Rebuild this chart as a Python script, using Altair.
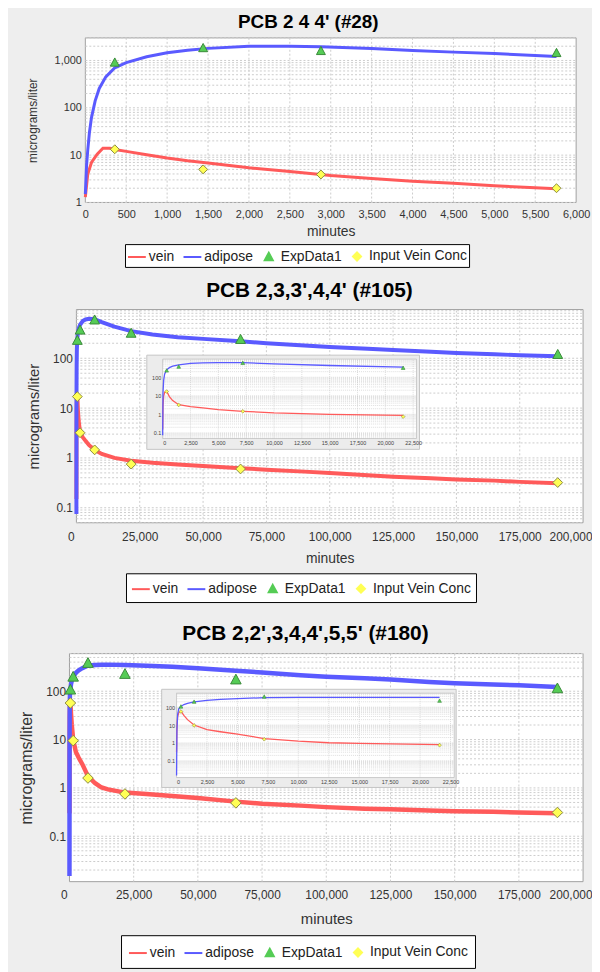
import altair as alt
import pandas as pd

FONT = "Liberation Sans"
SERIES = ["vein", "adipose", "ExpData1", "Input Vein Conc"]
SERIES_COLORS = ["#ff5a5a", "#5a5aff", "#55cc55", "#ffff55"]
SERIES_SHAPES = ["M-1,0H1", "M-1,0H1",
                 "M0,-0.45L0.45,0.38L-0.45,0.38Z",
                 "M0,-0.45L0.45,0L0,0.45L-0.45,0Z"]
X_TITLE = "minutes"
Y_TITLE = "micrograms/liter"
DECADE_STEPS = [1, 2, 3, 4, 5, 6, 7, 8, 9]

# ---------------- Panel 1 : PCB 28 ----------------
P1_TITLE = "PCB 2 4 4'  (#28)"
P1_VEIN_TIME = [0, 30, 75, 145, 215, 300, 360, 500, 750, 1000, 1250, 1500, 2000, 2500,
                3000, 3500, 4000, 4500, 5000, 5500, 5760]
P1_VEIN = [1.3, 4, 7, 10.5, 14, 14, 13.2, 12, 10.2, 8.7, 7.6, 6.8, 5.4, 4.5,
           3.7, 3.2, 2.8, 2.55, 2.25, 2.05, 1.95]
P1_ADIP_TIME = [0, 15, 30, 50, 75, 120, 170, 250, 360, 500, 750, 1000, 1250, 1500,
                2000, 2500, 2880, 3500, 4000, 4500, 5000, 5500, 5760]
P1_ADIPOSE = [1.5, 6, 13, 30, 62, 140, 256, 450, 700, 900, 1200, 1450, 1650, 1800,
              2000, 2000, 1950, 1780, 1620, 1500, 1400, 1270, 1210]
P1_EXP_TIME = [360, 1440, 2880, 5760]
P1_EXP = [910, 1840, 1600, 1450]
P1_INPUT = [13.3, 5.0, 3.9, 2.0]
P1_XTICKS = [0, 500, 1000, 1500, 2000, 2500, 3000, 3500, 4000, 4500, 5000, 5500, 6000]
P1_XDOMAIN = [0, 6000]
P1_YDOMAIN = [1, 3000]

# ---------------- Panel 2 : PCB 105 ----------------
P2_TITLE = "PCB 2,3,3',4,4' (#105)"
P2_TIME = [0, 30, 90, 180, 360, 600, 900, 1440, 2500, 3600, 5000, 7200, 10000, 15000,
           21600, 30000, 40000, 50000, 64800, 75000, 90000, 100000, 115000, 125000,
           140000, 150000, 165000, 175000, 190000]
P2_VEIN = [0.15, 3, 10, 15, 17.5, 9, 5.5, 3.3, 2.6, 2.2, 1.8, 1.45, 1.2, 1.0,
           0.88, 0.8, 0.74, 0.69, 0.62, 0.58, 0.53, 0.5, 0.45, 0.42,
           0.39, 0.37, 0.35, 0.33, 0.31]
P2_ADIPOSE = [0.075, 15, 70, 150, 250, 330, 400, 470, 560, 600, 620, 610, 530, 430,
              350, 300, 265, 245, 220, 200, 180, 168, 155, 146,
              135, 128, 120, 115, 110]
P2_EXP_TIME = [360, 1440, 7200, 21600, 64800, 190000]
P2_EXP = [230, 370, 590, 320, 240, 120]
P2_INPUT = [17, 3.2, 1.45, 0.75, 0.6, 0.32]
P2_XDOMAIN = [0, 200000]
P2_YDOMAIN = [0.05, 950]

# ---------------- Panel 3 : PCB 180 ----------------
P3_TITLE = "PCB 2,2',3,4,4',5,5' (#180)"
P3_TIME = [0, 30, 90, 180, 360, 600, 900, 1440, 2500, 3600, 5000, 7200, 10000, 12500,
           15000, 21600, 30000, 40000, 50000, 64800, 75000, 90000, 100000, 115000,
           125000, 140000, 150000, 165000, 175000, 190000]
P3_VEIN = [0.3, 8, 30, 50, 60, 35, 20, 10, 5.5, 4.2, 3.1, 1.75, 1.25, 1.02,
           0.93, 0.8, 0.75, 0.68, 0.62, 0.52, 0.47, 0.43, 0.4, 0.37,
           0.36, 0.34, 0.33, 0.32, 0.31, 0.3]
P3_ADIPOSE = [0.015, 5, 40, 80, 110, 140, 165, 200, 240, 270, 300, 340, 350, 352,
              355, 350, 335, 320, 300, 265, 245, 215, 200, 185,
              175, 155, 146, 138, 133, 122]
P3_EXP_TIME = [360, 1440, 7200, 21600, 64800, 190000]
P3_EXP = [108, 200, 385, 228, 175, 115]
P3_INPUT = [57, 9.5, 1.6, 0.75, 0.49, 0.31]
P3_XDOMAIN = [0, 200000]
P3_YDOMAIN = [0.0115, 600]

BIG_XTICKS = [0, 25000, 50000, 75000, 100000, 125000, 150000, 175000, 200000]
INSET_XTICKS = [0, 2500, 5000, 7500, 10000, 12500, 15000, 17500, 20000, 22500]
INSET_XMAX = 22800
INSET_YTICKS = [0.1, 1, 10, 100]

LABEL_EXPR = ("abs(log(datum.value)/LN10 - round(log(datum.value)/LN10)) < 0.001 "
              "? format(datum.value, ',') : ''")

COLOR_SCALE = alt.Scale(domain=SERIES, range=SERIES_COLORS)
FILL_SCALE = alt.Scale(domain=SERIES, range=SERIES_COLORS)
SHAPE_SCALE = alt.Scale(domain=SERIES, range=SERIES_SHAPES)
GRID_COLOR = "#cccccc"


def log_grid(lo, hi):
    vals = []
    for e in range(-3, 5):
        for s in DECADE_STEPS:
            v = round(s * 10 ** e, 6)
            if lo <= v <= hi:
                vals.append(v)
    return vals


def lines_frame(vt, vv, at, av):
    rows = [{"t": t, "conc": v, "series": "vein"} for t, v in zip(vt, vv)]
    rows += [{"t": t, "conc": v, "series": "adipose"} for t, v in zip(at, av)]
    return pd.DataFrame(rows)


def points_frame(ts, vs, name):
    return pd.DataFrame({"t": ts, "conc": vs, "series": [name] * len(ts)})


def make_legend(lx, ly, pad):
    return alt.Legend(orient="none", legendX=lx, legendY=ly, direction="horizontal",
                      columns=4, title=None, strokeColor="#000000", fillColor="#ffffff",
                      padding=pad, labelFont=FONT, labelFontSize=14, labelColor="#222222",
                      symbolSize=324, symbolStrokeWidth=2, columnPadding=5, labelOffset=2)


def series_layers(p, X, Y, legend, lw, ms, sw):
    lines = alt.Chart(p["lines"]).mark_line(strokeWidth=lw).encode(
        x=X, y=Y, color=alt.Color("series:N", scale=COLOR_SCALE, legend=legend))
    tri = alt.Chart(p["exp"]).mark_point(filled=True, opacity=1, size=ms,
                                         stroke="#3a8a3a", strokeWidth=sw).encode(
        x=X, y=Y,
        fill=alt.Fill("series:N", scale=FILL_SCALE, legend=legend),
        shape=alt.Shape("series:N", scale=SHAPE_SCALE, legend=legend))
    dia = alt.Chart(p["inp"]).mark_point(filled=True, opacity=1, size=ms,
                                         stroke="#8a8a40", strokeWidth=sw).encode(
        x=X, y=Y,
        fill=alt.Fill("series:N", scale=FILL_SCALE, legend=legend),
        shape=alt.Shape("series:N", scale=SHAPE_SCALE, legend=legend))
    return lines, tri, dia


def main_layer(p, legend):
    x_lo, x_hi = p["xdom"]
    y_lo, y_hi = p["ydom"]
    xs = alt.Scale(domain=p["xdom"], range=[p["a"], p["W"]], nice=False, zero=False)
    ys = alt.Scale(type="log", domain=p["ydom"], nice=False)
    xaxis = alt.Axis(title=X_TITLE, values=p["xticks"], format=",.0f", labelFontSize=p["xlab"],
                     titleFontSize=p["xtitle"], labelPadding=p["xlp"], titlePadding=p["xtp"],
                     labelFlush=p["flush"], labelFlushOffset=p["flushoff"],
                     labelOverlap=False, grid=False)
    yaxis = alt.Axis(title=Y_TITLE, values=log_grid(y_lo, y_hi), labelExpr=LABEL_EXPR,
                     labelFontSize=p["ylab"], titleFontSize=p["ytitle"], labelPadding=4,
                     titlePadding=p["ytp"], minExtent=p["ext"], maxExtent=p["ext"],
                     offset=-p["a"], labelOverlap=False, grid=False)
    one = pd.DataFrame({"k": [0]})
    plotbg = alt.Chart(one).mark_rect(fill="#ffffff", stroke="#a0a0a0", strokeWidth=1).encode(
        x=alt.X(datum=x_lo, type="quantitative", scale=xs, axis=xaxis),
        x2=alt.X2(datum=x_hi),
        y=alt.Y(datum=y_lo, type="quantitative", scale=ys, axis=yaxis),
        y2=alt.Y2(datum=y_hi))
    vgrid = alt.Chart(pd.DataFrame({"v": p["xticks"][1:-1]})).mark_rule(
        color=GRID_COLOR, strokeWidth=1, strokeDash=[2, 2]).encode(
        x=alt.X("v:Q", scale=xs, axis=xaxis),
        y=alt.Y(datum=y_lo, type="quantitative", scale=ys, axis=yaxis),
        y2=alt.Y2(datum=y_hi))
    hgrid = alt.Chart(pd.DataFrame({"v": log_grid(y_lo, y_hi)})).mark_rule(
        color=GRID_COLOR, strokeWidth=1, strokeDash=[2, 2]).encode(
        y=alt.Y("v:Q", scale=ys, axis=yaxis),
        x=alt.X(datum=x_lo, type="quantitative", scale=xs, axis=xaxis),
        x2=alt.X2(datum=x_hi))
    X = alt.X("t:Q", scale=xs, axis=xaxis)
    Y = alt.Y("conc:Q", scale=ys, axis=yaxis)
    lines, tri, dia = series_layers(p, X, Y, legend, p["lw"], p["ms"], 1)
    return alt.layer(plotbg, vgrid, hgrid, lines, tri, dia)


def inset_layer(p, legend):
    ins = p["inset"]
    y_lo, y_hi = p["ydom"]
    ixs = alt.Scale(domain=[0, INSET_XMAX], range=[ins["x0"], ins["x1"]], nice=False, zero=False)
    iys = alt.Scale(type="log", domain=p["ydom"], range=[ins["y1"], ins["y0"]], nice=False)
    ix_axis = alt.Axis(orient="bottom", offset=ins["y1"] - p["H"], values=INSET_XTICKS,
                       format=",.0f", labelFontSize=5.5, labelPadding=2, labelColor="#444444",
                       grid=False, ticks=False, domain=False, title=None, labelOverlap=False,
                       zindex=2)
    iy_axis = alt.Axis(orient="left", offset=-ins["x0"], values=INSET_YTICKS,
                       labelExpr=LABEL_EXPR, labelFontSize=5.5, labelPadding=2,
                       labelColor="#444444", grid=False, ticks=False, domain=False, title=None,
                       labelOverlap=False, minExtent=0, maxExtent=20, zindex=2)
    one = pd.DataFrame({"k": [0]})
    backing = alt.Chart(one).mark_rect(fill="#ececec", stroke="#c4c4c4", strokeWidth=1).encode(
        x=alt.value(ins["bx0"]), x2=alt.value(ins["bx1"]),
        y=alt.value(ins["by0"]), y2=alt.value(ins["by1"]))
    plotbg = alt.Chart(one).mark_rect(fill="#ffffff", stroke="#b0b0b0", strokeWidth=0.6).encode(
        x=alt.X(datum=0, type="quantitative", scale=ixs, axis=ix_axis),
        x2=alt.X2(datum=INSET_XMAX),
        y=alt.Y(datum=y_lo, type="quantitative", scale=iys, axis=iy_axis),
        y2=alt.Y2(datum=y_hi))
    vgrid = alt.Chart(pd.DataFrame({"v": INSET_XTICKS[1:]})).mark_rule(
        color="#c8c8c8", strokeWidth=0.6, strokeDash=[1, 1]).encode(
        x=alt.X("v:Q", scale=ixs, axis=ix_axis),
        y=alt.Y(datum=y_lo, type="quantitative", scale=iys, axis=iy_axis),
        y2=alt.Y2(datum=y_hi))
    hgrid = alt.Chart(pd.DataFrame({"v": log_grid(y_lo, y_hi)})).mark_rule(
        color="#c8c8c8", strokeWidth=0.6, strokeDash=[1, 1]).encode(
        y=alt.Y("v:Q", scale=iys, axis=iy_axis),
        x=alt.X(datum=0, type="quantitative", scale=ixs, axis=ix_axis),
        x2=alt.X2(datum=INSET_XMAX))
    IX = alt.X("t:Q", scale=ixs, axis=ix_axis)
    IY = alt.Y("conc:Q", scale=iys, axis=iy_axis)
    sub = dict(p)
    sub["lines"] = p["lines"][p["lines"]["t"] <= INSET_XMAX]
    sub["exp"] = p["exp"][p["exp"]["t"] <= INSET_XMAX]
    sub["inp"] = p["inp"][p["inp"]["t"] <= INSET_XMAX]
    lines, tri, dia = series_layers(sub, IX, IY, legend, 1.3, 70, 0.6)
    return alt.layer(backing, plotbg, vgrid, hgrid, lines, tri, dia)


def panel(p):
    legend = make_legend(p["lx"], p["ly"], p["lpad"])
    main = main_layer(p, legend)
    if p.get("inset"):
        chart = alt.layer(main, inset_layer(p, legend)).resolve_scale(
            x="independent", y="independent").resolve_axis(x="independent", y="independent")
    else:
        chart = main
    return chart.properties(
        width=p["W"], height=p["H"],
        title=alt.TitleParams(text=p["title"], fontSize=p["tfs"], font=FONT, fontWeight="bold",
                              anchor="middle", frame="bounds", offset=p["toff"], color="#000000"),
    )


P1 = dict(title=P1_TITLE, tfs=19, toff=0, a=9, W=504, H=166, xdom=P1_XDOMAIN, ydom=P1_YDOMAIN,
          xticks=P1_XTICKS, xlab=11, xtitle=14, xlp=6, xtp=5, flush=False, flushoff=0,
          ylab=11, ytitle=12, ytp=12, ext=34, lw=3, ms=400, lx=49, ly=208, lpad=2,
          lines=lines_frame(P1_VEIN_TIME, P1_VEIN, P1_ADIP_TIME, P1_ADIPOSE),
          exp=points_frame(P1_EXP_TIME, P1_EXP, "ExpData1"),
          inp=points_frame(P1_EXP_TIME, P1_INPUT, "Input Vein Conc"))

P2 = dict(title=P2_TITLE, tfs=21, toff=4, a=0, W=511, H=215, xdom=P2_XDOMAIN, ydom=P2_YDOMAIN,
          xticks=BIG_XTICKS, xlab=12, xtitle=14, xlp=9, xtp=9, flush=True, flushoff=9,
          ylab=12, ytitle=15, ytp=9, ext=26, lw=4, ms=480, lx=50, ly=266, lpad=5,
          lines=lines_frame(P2_TIME, P2_VEIN, P2_TIME, P2_ADIPOSE),
          exp=points_frame(P2_EXP_TIME, P2_EXP, "ExpData1"),
          inp=points_frame(P2_EXP_TIME, P2_INPUT, "Input Vein Conc"),
          inset=dict(x0=87, x1=343, y0=50, y1=130, bx0=71, bx1=346, by0=46, by1=141))

P3 = dict(title=P3_TITLE, tfs=21, toff=4, a=-7, W=511, H=230, xdom=P3_XDOMAIN, ydom=P3_YDOMAIN,
          xticks=BIG_XTICKS, xlab=12, xtitle=15, xlp=8, xtp=11, flush=True, flushoff=9,
          ylab=12, ytitle=16, ytp=11, ext=24, lw=4.5, ms=560, lx=45, ly=284, lpad=7,
          lines=lines_frame(P3_TIME, P3_VEIN, P3_TIME, P3_ADIPOSE),
          exp=points_frame(P3_EXP_TIME, P3_EXP, "ExpData1"),
          inp=points_frame(P3_EXP_TIME, P3_INPUT, "Input Vein Conc"),
          inset=dict(x0=101, x1=381, y0=40, y1=125, bx0=86, bx1=383, by0=36, by1=135))

INDEP = dict(color="independent", fill="independent", shape="independent")

upper = alt.concat(panel(P1), panel(P2), columns=1, spacing=12).resolve_scale(**INDEP)
chart = alt.concat(upper, panel(P3), columns=1, spacing=20).resolve_scale(
    **INDEP
).properties(
    background="#eeeeee",
    padding={"left": 11, "top": 1, "right": 0, "bottom": 0},
).configure_view(
    fill="transparent", stroke="transparent", strokeWidth=0
).configure_axis(
    labelFont=FONT, titleFont=FONT, labelColor="#333333", titleColor="#333333",
    titleFontWeight="normal", domain=False, ticks=False, tickSize=0
).configure_title(font=FONT)

chart.save("out.html", embed_options={"renderer": "svg", "actions": False})
